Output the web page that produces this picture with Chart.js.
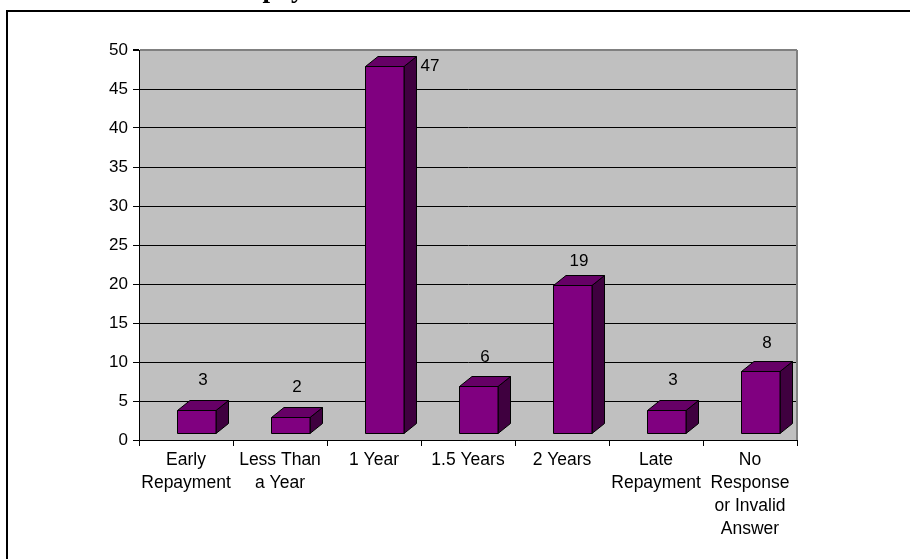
<!DOCTYPE html>
<html>
<head>
<meta charset="utf-8">
<title>Repayment Period</title>
<script src="https://cdn.jsdelivr.net/npm/chart.js@4.4.1/dist/chart.umd.min.js"></script>
<style>
    html, body { margin: 0; padding: 0; background: #fff; }
    #wrap { width: 910px; height: 559px; }
</style>
</head>
<body>
<div id="wrap"><canvas id="repayChart" width="910" height="559"></canvas></div>
<script>
// Survey answers: how long respondents took to repay
const categories = [
    ['Early', 'Repayment'],
    ['Less Than', 'a Year'],
    '1 Year',
    '1.5 Years',
    '2 Years',
    ['Late', 'Repayment'],
    ['No', 'Response', 'or Invalid', 'Answer']
];
const responses = [3, 2, 47, 6, 19, 3, 8];
const yMin = 0;
const yMax = 50;
const yStep = 5;

const FONT = '"Liberation Sans", Arial, sans-serif';
const FRONT = '#800080', TOP = '#660066', SIDE = '#3f003f';

// Page frame, cut-off heading and the grey back wall
const wallAndFrame = {
    id: 'wallAndFrame',
    beforeDraw(chart) {
        const { ctx, chartArea: a } = chart;
        ctx.save();
        ctx.fillStyle = '#fff';
        ctx.fillRect(0, 0, chart.width, chart.height);

        ctx.font = 'bold 27px "Liberation Serif", "Times New Roman", serif';
        ctx.fillStyle = '#000';
        ctx.textBaseline = 'alphabetic';
        ctx.fillText('Repayment', 231, -3);

        ctx.strokeStyle = '#000';
        ctx.lineWidth = 2;
        ctx.beginPath();
        ctx.moveTo(7, chart.height + 5);
        ctx.lineTo(7, 11);
        ctx.lineTo(chart.width + 5, 11);
        ctx.stroke();

        ctx.fillStyle = '#c0c0c0';
        ctx.fillRect(a.left, a.top, a.right - a.left, a.bottom - a.top);
        ctx.restore();
    },
    afterDraw(chart) {
        const { ctx, chartArea: a } = chart;
        ctx.save();
        ctx.strokeStyle = '#808080';
        ctx.lineWidth = 2;
        ctx.beginPath();
        ctx.moveTo(a.right, a.top);
        ctx.lineTo(a.right, a.bottom);
        ctx.stroke();
        ctx.restore();
    }
};

// Excel-style 3D columns with value labels
const columns3d = {
    id: 'columns3d',
    beforeDatasetDraw() { return false; },
    afterDatasetsDraw(chart) {
        const { ctx, chartArea: a } = chart;
        const y = chart.scales.y;
        const meta = chart.getDatasetMeta(0);
        const lift = 7, shift = 10, dx = 12.5, dy = 10;
        const zero = y.getPixelForValue(0);

        ctx.save();
        ctx.lineWidth = 1;
        ctx.strokeStyle = '#000';
        ctx.lineJoin = 'miter';

        meta.data.forEach((el, i) => {
            const v = responses[i];
            const left = Math.round(el.x - el.width / 2 + shift) + 0.5;
            const right = Math.round(left + el.width);
            const base = Math.round(zero - lift) + 0.5;
            const top = Math.round(y.getPixelForValue(v) - lift) + 0.5;
            const poly = (pts, fill) => {
                ctx.beginPath();
                pts.forEach(([px, py], k) => k ? ctx.lineTo(px, py) : ctx.moveTo(px, py));
                ctx.closePath();
                ctx.fillStyle = fill;
                ctx.fill();
                ctx.stroke();
            };
            poly([[right, base], [right + dx, base - dy], [right + dx, top - dy], [right, top]], SIDE);
            poly([[left, top], [left + dx, top - dy], [right + dx, top - dy], [right, top]], TOP);
            poly([[left, base], [left, top], [right, top], [right, base]], FRONT);

            // labels sit above the box, or beside it when there is no room
            ctx.fillStyle = '#000';
            ctx.font = '17px ' + FONT;
            ctx.textBaseline = 'middle';
            const labelY = zero - 38 - (zero - y.getPixelForValue(v)) * 0.946;
            if (labelY < a.top + 12) {
                ctx.textAlign = 'left';
                ctx.fillText(String(v), right + dx + 4, top);
            } else {
                ctx.textAlign = 'center';
                ctx.fillText(String(v), left + (el.width + dx) / 2, labelY);
            }
        });
        ctx.restore();
    }
};

new Chart(document.getElementById('repayChart'), {
    type: 'bar',
    data: {
        labels: categories,
        datasets: [{
            data: responses,
            backgroundColor: FRONT,
            barPercentage: 0.815,
            categoryPercentage: 0.5
        }]
    },
    options: {
        responsive: false,
        animation: false,
        devicePixelRatio: 1,
        layout: { padding: { left: 0, top: 50, right: 113, bottom: 0 } },
        plugins: {
            legend: { display: false },
            tooltip: { enabled: false }
        },
        scales: {
            y: {
                min: yMin,
                max: yMax,
                ticks: { stepSize: yStep, color: '#000', padding: 5, font: { family: FONT, size: 17 } },
                grid: {
                    color: c => c.tick && c.tick.value === yMax ? '#808080' : '#000',
                    lineWidth: c => c.tick && c.tick.value === yMax ? 2 : 1,
                    tickColor: '#000',
                    tickLength: 6
                },
                border: { color: '#000', width: 1 },
                afterFit: s => { s.width = 139; }
            },
            x: {
                ticks: {
                    color: '#000',
                    padding: 3,
                    maxRotation: 0,
                    autoSkip: false,
                    font: { family: FONT, size: 17.5, lineHeight: 23 / 17.5 }
                },
                grid: { drawOnChartArea: false, offset: true, color: '#000', tickLength: 6 },
                border: { color: '#000', width: 1 },
                afterFit: s => { s.height = 119; }
            }
        }
    },
    plugins: [wallAndFrame, columns3d]
});
</script>
</body>
</html>
